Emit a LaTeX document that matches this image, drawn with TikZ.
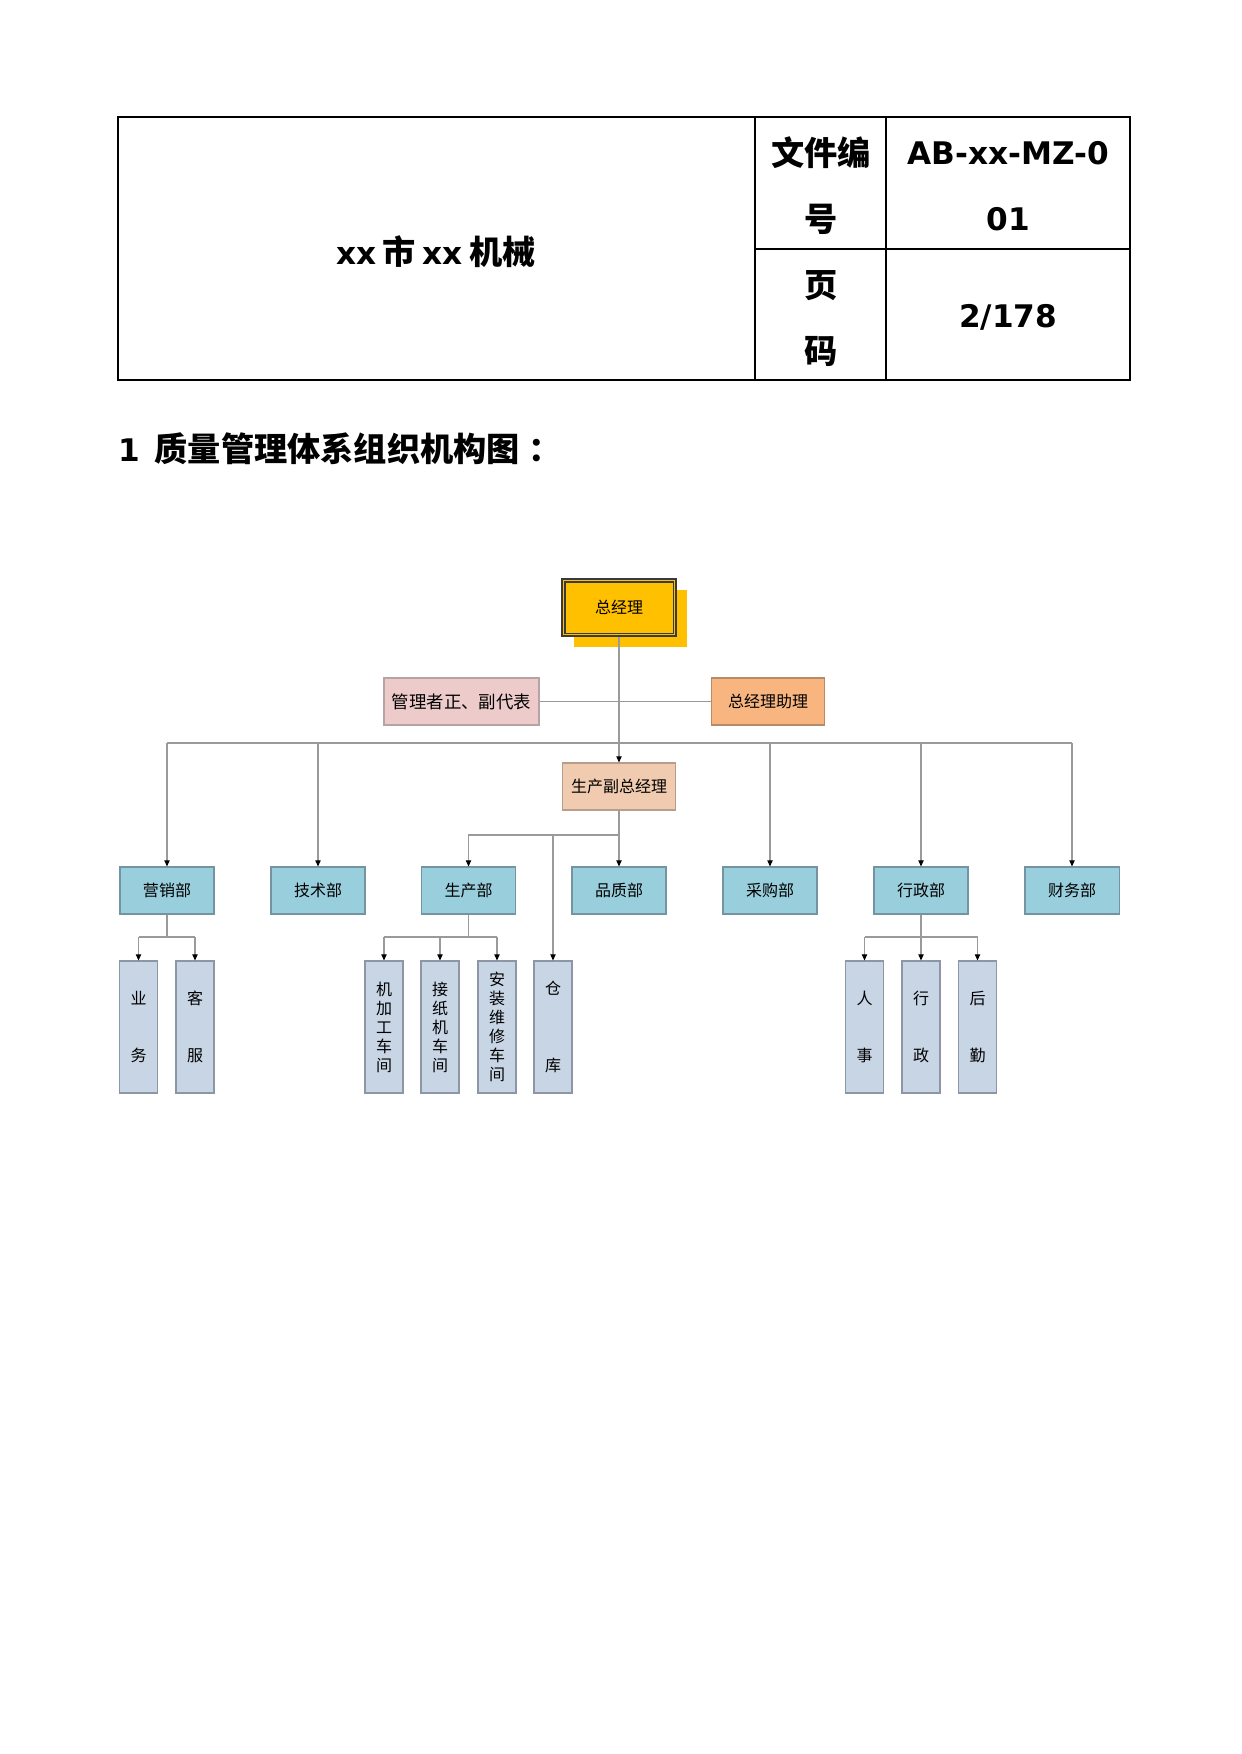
\documentclass[tikz,border=0pt]{standalone}
\usepackage{fontspec}
\setmainfont{DejaVu Sans}
\newfontfamily\cjk{Noto Sans CJK SC}
\newfontfamily\lat{DejaVu Sans}
\usetikzlibrary{arrows.meta}
\def\p{0.4818pt}
\definecolor{gold}{HTML}{FFC000}
\definecolor{gmb}{HTML}{3A3A3A}
\definecolor{repf}{HTML}{EDCBCB}
\definecolor{repb}{HTML}{B7A3A3}
\definecolor{asf}{HTML}{F9B57F}
\definecolor{asb}{HTML}{B98A66}
\definecolor{vgf}{HTML}{F0CBB0}
\definecolor{vgb}{HTML}{B89C8C}
\definecolor{depf}{HTML}{99CFDD}
\definecolor{depb}{HTML}{7394A0}
\definecolor{subf}{HTML}{C8D5E5}
\definecolor{subb}{HTML}{8C96A4}
\definecolor{lgray}{HTML}{9A9A9A}
\newcommand\chartfont{\cjk\fontsize{7.71}{9.15}\selectfont}
\newcommand\tabcjk{\cjk\bfseries\fontsize{16}{19}\selectfont}
\newcommand\tablat{\lat\bfseries\fontsize{15}{18}\selectfont}
\begin{document}
\begin{tikzpicture}[x=0.4818pt,y=-0.4818pt,
  box/.style={draw, line width=0.5pt, inner sep=0pt, font=\chartfont, text=black},
  dept/.style={box, draw=depb, fill=depf, minimum width=94*\p, minimum height=47*\p},
  sub/.style={box, draw=subb, fill=subf, minimum width=38*\p, minimum height=132*\p, align=center},
  conn/.style={draw=lgray, line width=0.5pt},
  arr/.style={conn, -{Triangle[width=2.6pt,length=3pt,color=black]}},
  tcjk/.style={inner sep=0pt, font=\tabcjk},
  tlat/.style={inner sep=0pt, font=\tablat}]
\fill[white] (0,0) rectangle (1241,1754);
\useasboundingbox (0,0) rectangle (1241,1754);
% ---- header table ----
\draw[line width=0.8pt] (118,117) rectangle (1130,380);
\draw[line width=0.5pt] (755,117) -- (755,380);
\draw[line width=0.5pt] (886,117) -- (886,380);
\draw[line width=0.5pt] (755,249) -- (1130,249);
\node[inner sep=0pt] (title) at (436,252) {{\tablat xx} {\tabcjk 市} {\tablat xx} {\tabcjk 机械}};
\node[tcjk] (wj) at (821,153) {文件编};
\node[tcjk] (hao) at (821,219) {号};
\node[tcjk] (ye) at (821,286) {页};
\node[tcjk] (ma) at (821,351) {码};
\node[tlat] (code1) at (1008,153) {AB-xx-MZ-0};
\node[tlat] (code2) at (1008,219) {01};
\node[tlat] (page) at (1008,317) {2/178};
% ---- heading ----
\node[anchor=west, inner sep=0pt] (head) at (118,449) {{\tablat 1}\hspace{7pt}{\tabcjk 质量管理体系组织机构图\hspace{4pt}：}};
% ---- chart ----
\fill[gold] (574,590) rectangle (687,647);
\node[box, draw=gmb, fill=gold, minimum width=114*\p, minimum height=57*\p, line width=0.6pt] (gm) at (619,607.5) {总经理};
\draw[gmb, line width=0.6pt] ([shift={(3.5,3.5)}]gm.north west) rectangle ([shift={(-3.5,-3.5)}]gm.south east);
\node[box, draw=repb, fill=repf, minimum width=155*\p, minimum height=47*\p, font=\cjk\fontsize{8.4}{10}\selectfont] (rep) at (461.5,701.5) {管理者正、副代表};
\node[box, draw=asb, fill=asf, minimum width=113*\p, minimum height=47*\p] (asst) at (768,701.5) {总经理助理};
\node[box, draw=vgb, fill=vgf, minimum width=113*\p, minimum height=47*\p] (vgm) at (619,786.5) {生产副总经理};
\node[dept] (d1) at (167,890.5) {营销部};
\node[dept] (d2) at (318,890.5) {技术部};
\node[dept] (d3) at (468.5,890.5) {生产部};
\node[dept] (d4) at (619,890.5) {品质部};
\node[dept] (d5) at (770,890.5) {采购部};
\node[dept] (d6) at (921,890.5) {行政部};
\node[dept] (d7) at (1072,890.5) {财务部};
\node[sub] (s1) at (138.5,1027) {业\\[18.3pt]务};
\node[sub] (s2) at (195,1027) {客\\[18.3pt]服};
\node[sub] (s3) at (384,1027) {机\\加\\工\\车\\间};
\node[sub] (s4) at (440,1027) {接\\纸\\机\\车\\间};
\node[sub] (s5) at (497,1027) {安\\装\\维\\修\\车\\间};
\node[sub] (s6) at (553,1027) {仓\\[27.9pt]库};
\node[sub] (s7) at (864.5,1027) {人\\[18.3pt]事};
\node[sub] (s8) at (921,1027) {行\\[18.3pt]政};
\node[sub] (s9) at (977.5,1027) {后\\[18.3pt]勤};
% connectors
\coordinate (busY) at (0,743);
\coordinate (brY) at (0,835);
\coordinate (sbY) at (0,937);
\draw[conn] (rep.east) -- (asst.west);
\draw[arr] (gm.south) -- (vgm.north);
\draw[conn] (d1.north |- busY) -- (d7.north |- busY);
\foreach \d in {d1,d2,d5,d6,d7} \draw[arr] (\d.north |- busY) -- (\d.north);
\draw[arr] (vgm.south) -- (d4.north);
\draw[arr] (vgm.south |- brY) -- (d3.north |- brY) -- (d3.north);
\draw[arr] (s6.north |- brY) -- (s6.north);
% sub buses
\draw[conn] (d1.south) -- (d1.south |- sbY);
\draw[conn] (s1.north |- sbY) -- (s2.north |- sbY);
\foreach \s in {s1,s2} \draw[arr] (\s.north |- sbY) -- (\s.north);
\draw[conn] (d3.south) -- (d3.south |- sbY);
\draw[conn] (s3.north |- sbY) -- (s5.north |- sbY);
\foreach \s in {s3,s4,s5} \draw[arr] (\s.north |- sbY) -- (\s.north);
\draw[conn] (d6.south) -- (d6.south |- sbY);
\draw[conn] (s7.north |- sbY) -- (s9.north |- sbY);
\foreach \s in {s7,s8,s9} \draw[arr] (\s.north |- sbY) -- (\s.north);
\end{tikzpicture}
\end{document}
